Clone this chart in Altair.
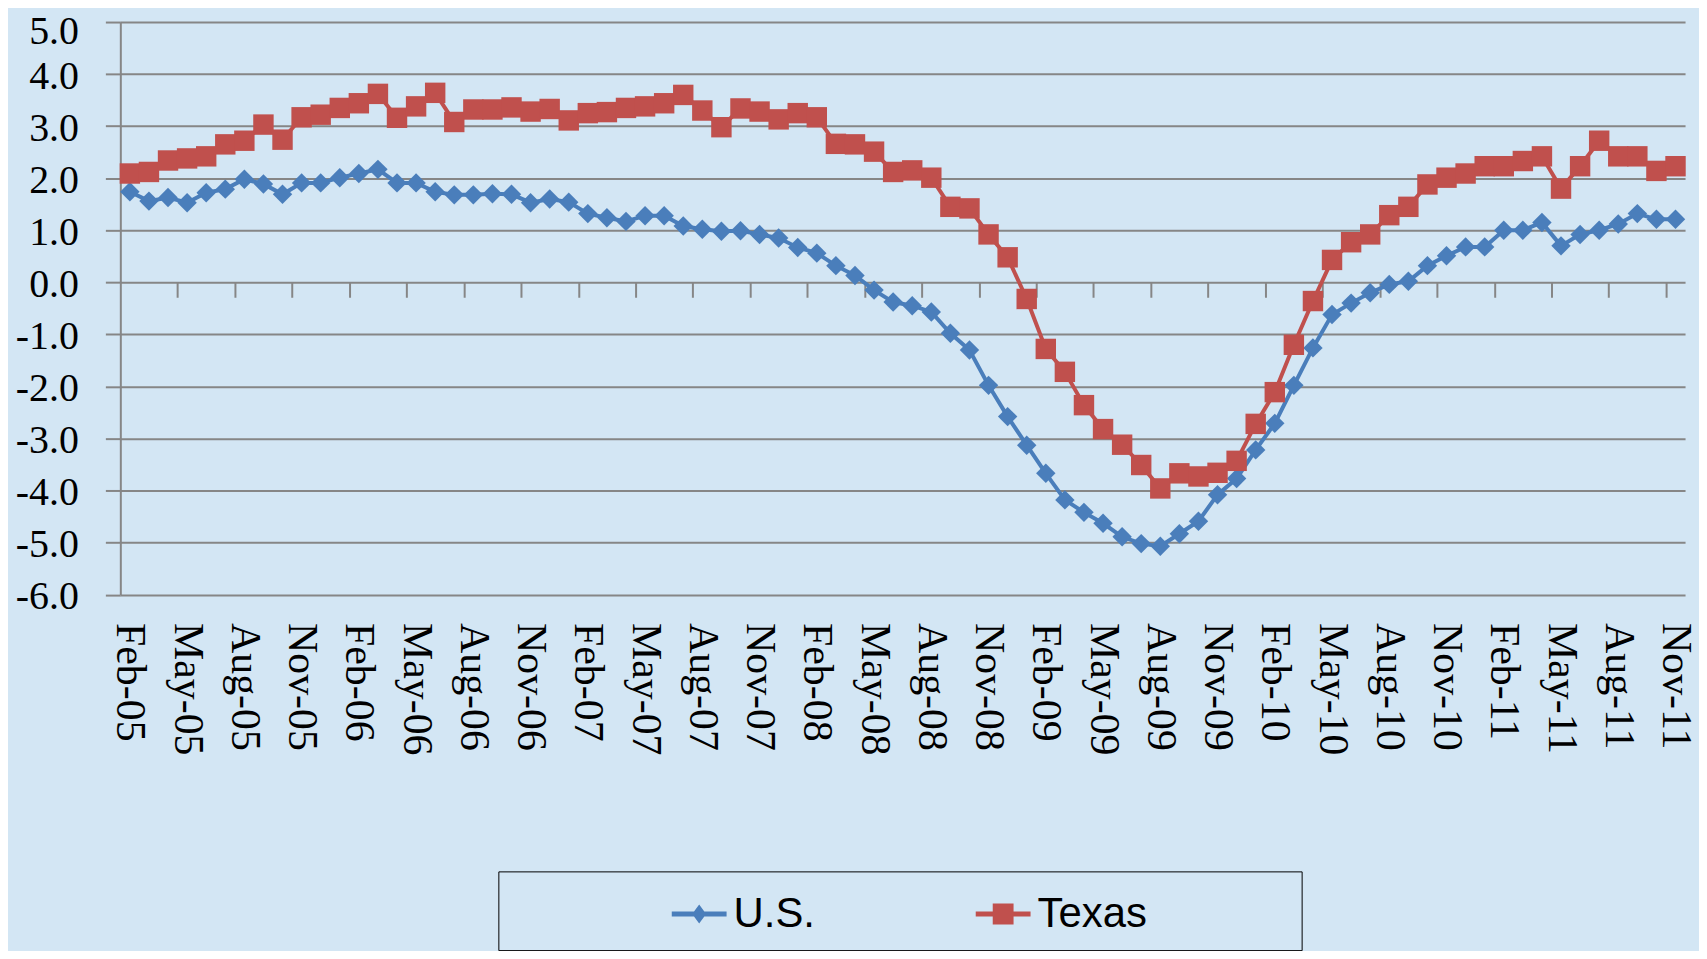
import altair as alt
import pandas as pd

# ---- data ----
months = list(pd.date_range("2005-02-01", periods=82, freq="MS").strftime("%b-%y"))

us = [1.74, 1.56, 1.63, 1.53, 1.72, 1.79, 1.98, 1.89, 1.69, 1.91,
      1.91, 2.01, 2.09, 2.17, 1.91, 1.91, 1.74, 1.68, 1.68, 1.70,
      1.69, 1.53, 1.60, 1.54, 1.32, 1.24, 1.17, 1.28, 1.28, 1.08,
      1.02, 0.98, 0.99, 0.92, 0.85, 0.67, 0.56, 0.32, 0.13, -0.15,
      -0.38, -0.45, -0.57, -0.98, -1.30, -1.98, -2.58, -3.13, -3.67, -4.18,
      -4.42, -4.63, -4.89, -5.02, -5.07, -4.83, -4.59, -4.08, -3.77, -3.22,
      -2.71, -1.98, -1.26, -0.62, -0.40, -0.20, -0.04, 0.02, 0.32, 0.51,
      0.68, 0.68, 1.00, 1.00, 1.15, 0.70, 0.92, 1.00, 1.12, 1.32,
      1.21, 1.21]

texas = [2.09, 2.12, 2.34, 2.38, 2.42, 2.65, 2.72, 3.03, 2.74, 3.17,
         3.22, 3.35, 3.44, 3.62, 3.16, 3.38, 3.64, 3.08, 3.32, 3.32,
         3.36, 3.28, 3.33, 3.11, 3.25, 3.27, 3.35, 3.38, 3.44, 3.60,
         3.30, 2.98, 3.34, 3.28, 3.13, 3.25, 3.17, 2.66, 2.65, 2.51,
         2.12, 2.15, 2.01, 1.45, 1.42, 0.92, 0.48, -0.32, -1.28, -1.72,
         -2.36, -2.82, -3.12, -3.51, -3.96, -3.67, -3.73, -3.66, -3.43, -2.72,
         -2.11, -1.20, -0.36, 0.43, 0.77, 0.92, 1.29, 1.45, 1.88, 2.01,
         2.09, 2.23, 2.23, 2.33, 2.42, 1.80, 2.23, 2.72, 2.42, 2.42,
         2.14, 2.23]

series_names = ["U.S.", "Texas"]
series_colors = ["#4a7ebb", "#c0504d"]
y_ticks = list(range(-6, 6))
label_positions = list(range(0, len(months), 3))
tick_positions = [i + 2.5 for i in range(0, len(months) - 3, 3)]

df = pd.DataFrame({"idx": list(range(len(months))), "month": months,
                   "us": us, "texas": texas})

# ---- styling / layout ----
BG = "#d3e6f4"
GRID = "#868686"
SERIF = "Liberation Serif"
SANS = "Liberation Sans"
W, H = 1570, 574.5
YMIN, YMAX = -6, 5
zero_offset = H * (0 - YMIN) / (YMAX - YMIN)

xscale = alt.Scale(domain=[-0.5, len(months) - 0.5], nice=False, zero=False)
yscale = alt.Scale(domain=[YMIN, YMAX], nice=False, zero=False)

month_expr = "[" + ",".join("'%s'" % m for m in months) + "][datum.value]"

x_labels = alt.X("idx:Q", scale=xscale, title=None, axis=alt.Axis(
    orient="bottom", values=label_positions, labelExpr=month_expr,
    labelAngle=90, labelFont=SERIF, labelFontSize=42, labelColor="black",
    labelPadding=28, labelFlush=False, labelOverlap=False,
    ticks=False, tickSize=0, domain=False, grid=False))

x_ticks = alt.X("idx:Q", scale=xscale, title=None, axis=alt.Axis(
    orient="bottom", values=tick_positions, labels=False, domain=False,
    grid=False, ticks=True, tickSize=15, tickColor=GRID, tickWidth=2,
    offset=-zero_offset))

x_none = alt.X("idx:Q", scale=xscale, axis=None)

y_main = alt.Y("us:Q", scale=yscale, title=None, axis=alt.Axis(
    orient="left", values=y_ticks,
    labelExpr="(datum.value < 0 ? '-' : '') + format(abs(datum.value), '.1f')",
    labelFont=SERIF, labelFontSize=40, labelColor="black", labelPadding=27,
    labelOffset={"condition": {"test": "datum.value == 5", "value": 10}, "value": 2},
    labelFlush=False, labelOverlap=False,
    tickSize=15, tickColor=GRID, tickWidth=2,
    domainColor=GRID, domainWidth=2,
    grid=True, gridColor=GRID, gridWidth=2, gridOpacity=1))

base = alt.Chart(df)

us_line = base.mark_line(color=series_colors[0], strokeWidth=4).encode(
    x=x_labels, y=y_main)
us_pts = base.mark_point(shape="diamond", filled=True, size=380, opacity=1,
                         color=series_colors[0]).encode(
    x=x_ticks, y=alt.Y("us:Q", scale=yscale, axis=None))
tx_line = base.mark_line(color=series_colors[1], strokeWidth=4).encode(
    x=x_none, y=alt.Y("texas:Q", scale=yscale, axis=None))
tx_pts = base.mark_square(size=420, opacity=1, filled=True,
                          color=series_colors[1]).encode(
    x=x_none, y=alt.Y("texas:Q", scale=yscale, axis=None))

# legend-only layer (no rows drawn), symbols = line with marker
legend_paths = [
    "M-1,-0.09H1V0.09H-1Z M0,-0.345L0.255,0L0,0.345L-0.255,0Z",
    "M-1,-0.09H1V0.09H-1Z M-0.38,-0.38H0.38V0.38H-0.38Z",
]
NB = "\u00a0"
ZW = "\u200b"
legend = alt.Legend(
    orient="none", legendX=379.3, legendY=852.2, direction="horizontal",
    title="MMMMMMMM", titleOrient="left", titleFont="Liberation Mono",
    titleFontSize=30, titleColor="transparent", titlePadding=14,
    padding=15, strokeColor="black", fillColor=BG,
    labelFont=SANS, labelFontSize=42, labelColor="black", labelOffset=7,
    labelLimit=600, columnPadding=161, symbolSize=3025, symbolStrokeWidth=0,
    labelExpr="datum.label == 'Texas' ? 'Texas" + NB * 12 + ZW + "' : datum.label")

legend_layer = base.transform_fold(
    ["us", "texas"], as_=["key", "value"]
).transform_calculate(
    series="datum.key == 'us' ? 'U.S.' : 'Texas'"
).transform_filter("false").mark_point(filled=True, opacity=1).encode(
    x=x_none,
    y=alt.Y("value:Q", scale=yscale, axis=None),
    color=alt.Color("series:N", scale=alt.Scale(domain=series_names, range=series_colors),
                    legend=legend),
    shape=alt.Shape("series:N", scale=alt.Scale(domain=series_names, range=legend_paths),
                    legend=legend),
)

chart = alt.layer(us_line, us_pts, tx_line, tx_pts, legend_layer).resolve_axis(
    x="independent", y="independent"
).properties(
    width=W, height=H,
    autosize=alt.AutoSizeParams(type="none"),
    padding={"left": 112.7, "top": 12.5, "right": 14, "bottom": 356},
    background=BG,
).configure_view(stroke="transparent")

chart.save("out.html", embed_options={"renderer": "svg", "actions": False})
